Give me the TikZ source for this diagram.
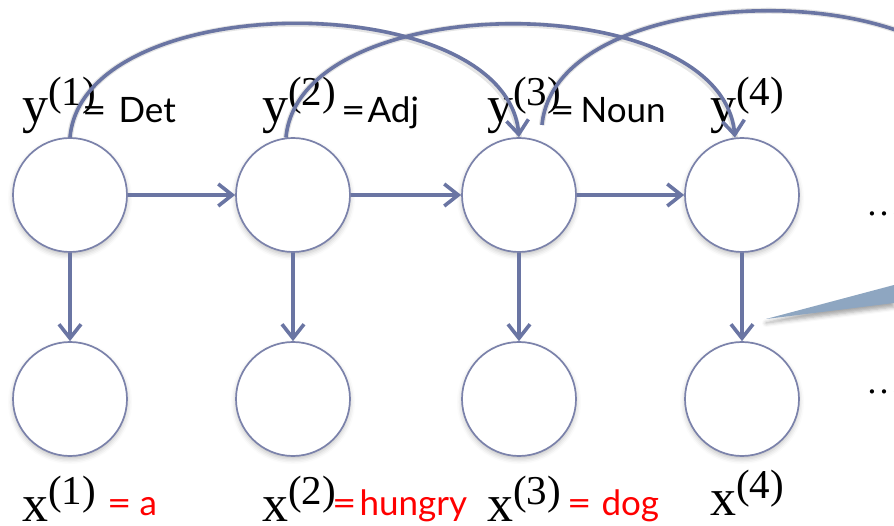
\documentclass[tikz,border=0pt]{standalone}
\usepackage{fontspec}
\setmainfont{Liberation Serif}
\newfontfamily\labsans{Lato}
\usetikzlibrary{arrows.meta,shadows.blur}

\definecolor{nodeline}{HTML}{7B82AA}
\definecolor{edgeblue}{HTML}{6A75A3}
\definecolor{wordred}{HTML}{FF0000}
\definecolor{calloutfill}{HTML}{8EA6C1}

% variable name with a parenthesised superscript index
\newcommand{\varlab}[2]{\fontsize{52}{52}\selectfont #1\raisebox{17pt}{\fontsize{41}{41}\selectfont(#2)}}
% a slightly wider equals sign for the tag texts
\newcommand{\tageq}{\scalebox{1.2}[1]{=}}

\tikzset{
  state/.style={circle, draw=nodeline, line width=1.7pt, fill=white,
    minimum size=114pt, inner sep=0pt,
    blur shadow={shadow xshift=0pt, shadow yshift=-3pt,
      shadow blur radius=5pt, shadow opacity=25}},
  edge/.style={draw=edgeblue, line width=3.6pt,
    -{Straight Barb[length=14pt,width=22pt]}},
  arcline/.style={draw=edgeblue, line width=3.6pt},
  arcshade/.style={draw=black, opacity=0.10, line width=6pt},
  varname/.style={anchor=base west, inner sep=0pt, text=black},
  taglab/.style={anchor=base west, inner sep=0pt, text=black,
    font=\labsans\fontsize{35}{35}\selectfont},
  wordlab/.style={anchor=base west, inner sep=0pt, text=wordred,
    font=\labsans\fontsize{35}{35}\selectfont},
}

\begin{document}
\begin{tikzpicture}[x=1pt, y=-1pt]
\path[use as bounding box] (0,0) rectangle (894,526);
\clip (0,0) rectangle (894,526);

% hidden states (top) and observations (bottom)
\node[state] (y1) at (70,195) {};
\node[state] (y2) at (293,195) {};
\node[state] (y3) at (519,195) {};
\node[state] (y4) at (742,195) {};
\node[state] (x1) at (70,399) {};
\node[state] (x2) at (293,399) {};
\node[state] (x3) at (519,399) {};
\node[state] (x4) at (742,399) {};

% variable names
\node[varname] (ly1) at (22,123) {\varlab{y}{1}};
\node[varname] (ly2) at (262,123) {\varlab{y}{2}};
\node[varname] (ly3) at (487,123) {\varlab{y}{3}};
\node[varname] (ly4) at (710,123) {\varlab{y}{4}};
\node[varname] (lx1) at (22,521) {\varlab{x}{1}};
\node[varname] (lx2) at (262,521) {\varlab{x}{2}};
\node[varname] (lx3) at (487,521) {\varlab{x}{3}};
\node[varname] (lx4) at (710,515) {\varlab{x}{4}};

% tags and words
\node[taglab] (t1) at (82,123) {\tageq\hspace{12pt}Det};
\node[taglab] (t2) at (341,123) {\tageq\hspace{2pt}Adj};
\node[taglab] (t3) at (550,123) {\tageq\hspace{6pt}Noun};
\node[wordlab] (w1) at (107,515) {\tageq\hspace{8pt}a};
\node[wordlab] (w2) at (332,515) {\tageq\hspace{3pt}hungry};
\node[wordlab] (w3) at (567,515) {\tageq\hspace{10pt}dog};

% continuation dots
\node[varname] (dots1) at (866,216) {\fontsize{36}{36}\selectfont\ldots};
\node[varname] (dots2) at (866,393) {\fontsize{36}{36}\selectfont\ldots};

% callout wedge
\fill[calloutfill, blur shadow={shadow xshift=0pt, shadow yshift=-4pt,
      shadow blur radius=4pt, shadow opacity=35}]
  (766,319) -- (894,285) -- (894,303) -- cycle;

% chain and emission edges
\draw[edge] (y1) -- (y2);
\draw[edge] (y2) -- (y3);
\draw[edge] (y3) -- (y4);
\draw[edge] (y1) -- (x1);
\draw[edge] (y2) -- (x2);
\draw[edge] (y3) -- (x3);
\draw[edge] (y4) -- (x4);

% second-order edges
\coordinate (a3s) at (542,125);
\coordinate (a3e) at (991,123);
\begin{scope}[yshift=-3pt]
\draw[arcshade] (y1.north) .. controls +(14,-151) and +(-14,-151) .. (y3.north);
\draw[arcshade] (y2.97) .. controls +(14,-151) and +(-14,-151) .. (y4.97);
\draw[arcshade] (a3s) .. controls +(14,-151) and +(-14,-151) .. (a3e);
\end{scope}
\draw[edge] (y1.north) .. controls +(14,-151) and +(-14,-151) .. (y3.north);
\draw[edge] (y2.97) .. controls +(14,-151) and +(-14,-151) .. (y4.97);
\draw[arcline] (a3s) .. controls +(14,-151) and +(-14,-151) .. (a3e);
\end{tikzpicture}
\end{document}
